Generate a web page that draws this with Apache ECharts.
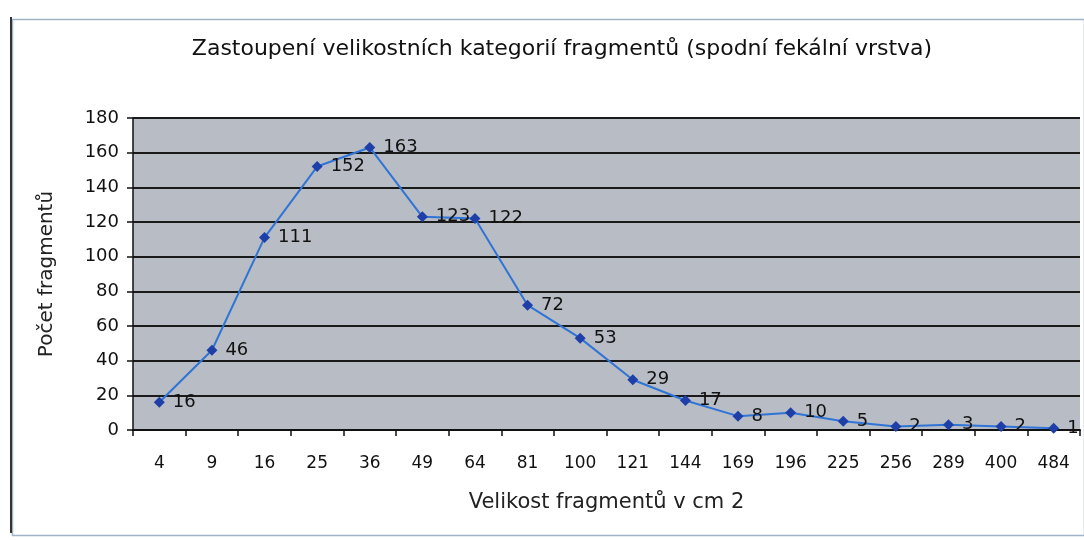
<!DOCTYPE html>
<html><head><meta charset="utf-8">
<script src="https://cdn.jsdelivr.net/npm/echarts@6/dist/echarts.min.js"></script>
<style>html,body{margin:0;padding:0;background:#fff}#c{width:1084px;height:540px}</style>
</head><body><div id="c"></div>
<script>
const categories = ['4','9','16','25','36','49','64','81','100','121','144','169','196','225','256','289','400','484'];
const counts = [16,46,111,152,163,123,122,72,53,29,17,8,10,5,2,3,2,1];
const yTicks = [0,20,40,60,80,100,120,140,160,180];
const titleText = 'Zastoupení velikostních kategorií fragmentů (spodní fekální vrstva)';
const xName = 'Velikost fragmentů v cm 2';
const yName = 'Počet fragmentů';

const chart = echarts.init(document.getElementById('c'));
chart.setOption({
  animation: false,
  backgroundColor: '#fff',
  textStyle: {fontFamily: 'DejaVu Sans, sans-serif'},
  graphic: [{
    type: 'rect', left: 10, top: 17, silent: true,
    shape: {width: 1072, height: 516},
    style: {fill: 'none', stroke: '#9fb4c8', lineWidth: 1.5}
  }, {
    type: 'line', silent: true,
    shape: {x1: 11, y1: 17, x2: 11, y2: 533},
    style: {stroke: '#333', lineWidth: 2}
  }],
  title: {
    text: titleText, left: 557, top: 33, textAlign: 'center',
    textStyle: {fontSize: 22, fontWeight: 'normal', color: '#111', fontFamily: 'DejaVu Sans'}
  },
  grid: {left: 133, right: 4, top: 118, bottom: 110, show: true, backgroundColor: '#b7bcc5', borderWidth: 0},
  xAxis: {
    type: 'category', data: categories, boundaryGap: true,
    name: xName, nameLocation: 'middle', nameGap: 62,
    nameTextStyle: {fontSize: 21, color: '#222'},
    axisLine: {lineStyle: {color: '#111', width: 2}},
    axisTick: {show: true, length: 6, lineStyle: {color: '#111', width: 1.5}},
    axisLabel: {fontSize: 17, color: '#111', margin: 25}
  },
  yAxis: {
    type: 'value', min: 0, max: 180, interval: 20,
    name: yName, nameLocation: 'middle', nameGap: 76, nameRotate: 90,
    nameTextStyle: {fontSize: 20, color: '#222'},
    axisLine: {show: true, lineStyle: {color: '#111', width: 1.5}},
    axisTick: {show: true, length: 6, lineStyle: {color: '#111', width: 1.5}},
    axisLabel: {fontSize: 18, color: '#111', margin: 14},
    splitLine: {show: true, lineStyle: {color: '#1a1a1a', width: 2}}
  },
  series: [{
    type: 'line', data: counts,
    symbol: 'diamond', symbolSize: 11,
    itemStyle: {color: '#1e3fa8'},
    lineStyle: {color: '#2f74d6', width: 2},
    label: {show: true, position: 'right', distance: 8, fontSize: 18, color: '#111'}
  }]
});
</script></body></html>
